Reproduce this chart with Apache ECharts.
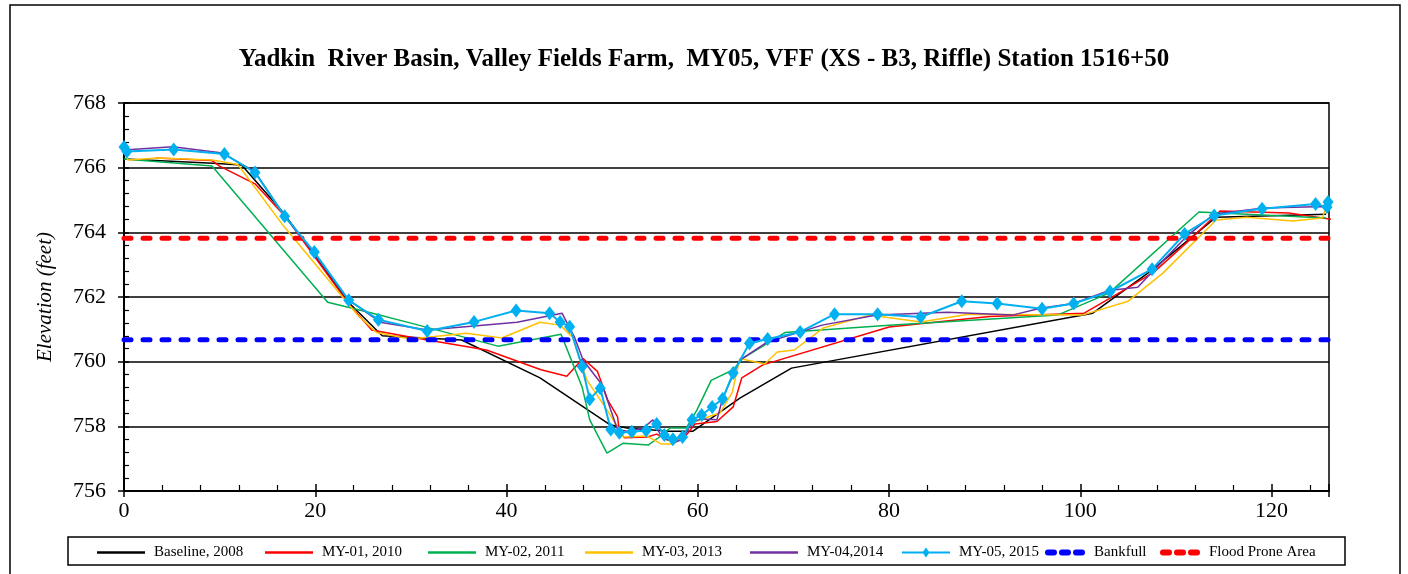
<!DOCTYPE html>
<html>
<head>
<meta charset="utf-8">
<script src="https://cdn.jsdelivr.net/npm/echarts@6/dist/echarts.min.js"></script>
<style>
  html, body { margin: 0; padding: 0; background: #fff; }
  #chart { width: 1408px; height: 574px; }
</style>
</head>
<body>
<div id="chart"></div>
<script>
// station (ft) / elevation (ft) per survey
var baseSta  = [0, 9.3, 12.3, 16.6, 23.6, 27, 35.3, 43.5, 50.8, 52.6, 57, 59.5, 64.4, 69.8, 101.3, 107.2, 114.2, 125.7];
var baseElev = [766.27, 766.14, 766.08, 764.63, 761.8, 760.8, 760.67, 759.5, 758.05, 757.95, 757.85, 757.85, 758.87, 759.8, 761.5, 762.77, 764.47, 764.56];

var my01Sta  = [3.3, 9.2, 10, 13.7, 17, 23.6, 25.9, 29.9, 37.9, 43.6, 46.3, 48, 49.5, 50.6, 51.6, 51.8, 52.3, 54.7, 55.7, 56.8, 58.4, 59.7, 62, 63.7, 64.6, 66.8, 80, 90.5, 100.4, 104.2, 107.7, 111.4, 114.6, 121.8, 127.4];
var my01Elev = [766.3, 766.22, 766.05, 765.5, 764.44, 761.75, 760.98, 760.76, 760.36, 759.75, 759.55, 760.1, 759.7, 758.8, 758.3, 757.85, 757.65, 757.67, 757.76, 757.58, 757.58, 758.07, 758.15, 758.6, 759.5, 759.9, 761.07, 761.4, 761.5, 762.15, 762.77, 763.76, 764.66, 764.6, 764.35];

var my02Sta  = [0, 9.2, 21.3, 26, 29.9, 39.1, 45.7, 47.9, 48.7, 50.5, 52.2, 54.8, 56, 57.1, 58.8, 59.9, 61.4, 63.7, 64.7, 69.1, 80, 97.6, 103, 112.4, 125.7];
var my02Elev = [766.27, 766.05, 761.84, 761.5, 761.2, 760.48, 760.85, 759.22, 758.2, 757.17, 757.48, 757.42, 757.67, 757.95, 757.95, 758.5, 759.42, 759.75, 760.1, 760.9, 761.13, 761.44, 762.12, 764.63, 764.44];

var my03Sta  = [0, 0.4, 3.6, 9.2, 11.9, 16.6, 24.4, 26.4, 29.9, 35.8, 39.5, 43.5, 45.6, 46.9, 48.4, 50.3, 51.5, 52.2, 54.7, 56.2, 57.4, 58.4, 59.4, 61.6, 62.3, 63.6, 64.4, 67, 68.3, 70.1, 73.1, 78, 83.3, 88.3, 100.2, 105, 108.6, 114.2, 117.4, 122.2, 125.3, 125.7];
var my03Elev = [766.5, 766.24, 766.3, 766.24, 766.1, 764.23, 761.45, 760.9, 760.7, 760.88, 760.73, 761.22, 761.13, 760.76, 759.43, 758.6, 758.04, 757.67, 757.7, 757.45, 757.45, 757.67, 758.1, 758.35, 758.4, 759.05, 760.1, 759.93, 760.3, 760.36, 761.04, 761.44, 761.23, 761.47, 761.44, 761.87, 762.73, 764.38, 764.47, 764.35, 764.44, 764.78];

var my04Sta  = [0, 5.1, 10.3, 13.7, 16.8, 20, 23.5, 26.8, 31.7, 36.6, 41.1, 45.8, 47.1, 48, 50, 51.6, 52.6, 54.3, 55.3, 56.2, 57.6, 58.4, 59.4, 60.4, 62, 62.6, 64.4, 67.2, 73, 78.7, 86.1, 92.9, 95.8, 99.3, 103, 106, 107.5, 111.2, 114, 119.2, 125.6, 126];
var my04Elev = [766.55, 766.65, 766.45, 765.87, 764.5, 763.3, 761.9, 761.22, 760.98, 761.1, 761.22, 761.5, 760.76, 760.05, 759.28, 757.9, 757.85, 757.95, 758.2, 757.67, 757.51, 757.6, 758.13, 758.23, 758.2, 758.87, 760.05, 760.6, 761.13, 761.44, 761.53, 761.44, 761.65, 761.8, 762.2, 762.3, 762.77, 763.9, 764.57, 764.75, 764.8, 764.75];

var my05Sta  = [0, 0.3, 5.2, 10.5, 13.7, 16.8, 19.9, 23.5, 26.6, 31.7, 36.6, 41, 44.5, 45.6, 46.6, 47.9, 48.7, 49.8, 50.9, 51.8, 53.1, 54.6, 55.7, 56.5, 57.4, 58.4, 59.4, 60.4, 61.5, 62.6, 63.7, 65.4, 67.3, 70.7, 74.3, 78.8, 83.3, 87.6, 91.3, 96, 99.3, 103.1, 107.5, 110.9, 114, 119, 124.6, 125.8, 125.9];
var my05Elev = [766.64, 766.5, 766.56, 766.42, 765.85, 764.5, 763.39, 761.9, 761.3, 760.95, 761.23, 761.58, 761.5, 761.23, 761.08, 759.85, 758.84, 759.18, 757.9, 757.8, 757.83, 757.87, 758.07, 757.73, 757.6, 757.67, 758.2, 758.35, 758.6, 758.85, 759.65, 760.57, 760.7, 760.92, 761.47, 761.47, 761.38, 761.87, 761.8, 761.64, 761.8, 762.17, 762.86, 763.95, 764.52, 764.73, 764.88, 764.78, 764.94];

var bankSta   = [0, 126];
var bankElev  = [760.68, 760.68];
var floodSta  = [0, 126];
var floodElev = [763.82, 763.82];

var names = ['Baseline, 2008', 'MY-01, 2010', 'MY-02, 2011', 'MY-03, 2013', 'MY-04,2014', 'MY-05, 2015', 'Bankfull', 'Flood Prone Area'];
var colors = ['#000000', '#ff0000', '#00b050', '#ffc000', '#7030a0', '#00b0f0', '#0000ff', '#ff0000'];

function pairs(xs, ys) {
  var out = [];
  for (var i = 0; i < xs.length; i++) out.push([xs[i], ys[i]]);
  return out;
}

var serif = '"Liberation Serif", "Times New Roman", serif';

// legend icons: plain line, line with diamond, three dashes
var iconLine = 'path://M0,5 L48,5 L48,7.5 L0,7.5 Z';
var iconDiamond = 'path://M0,5 L48,5 L48,7 L0,7 Z M24,1 L27.5,6 L24,11 L20.5,6 Z';
var iconDots = 'path://M3,3 L9,3 A3,3 0 0 1 9,9 L3,9 A3,3 0 0 1 3,3 Z M17,3 L23,3 A3,3 0 0 1 23,9 L17,9 A3,3 0 0 1 17,3 Z M31,3 L37,3 A3,3 0 0 1 37,9 L31,9 A3,3 0 0 1 31,3 Z';

myChart = echarts.init(document.getElementById('chart'));

function lineSeries(idx, data, extra) {
  var s = {
    name: names[idx],
    type: 'line',
    data: data,
    symbol: 'none',
    color: colors[idx],
    lineStyle: { color: colors[idx], width: 1.5 },
    animation: false,
    z: 3
  };
  for (var k in extra) s[k] = extra[k];
  return s;
}

// legend placed item by item, like the boxed legend in the original
var legendLeft = [97, 265, 428, 585, 750, 902, 1045, 1160];
var legends = [];
for (var i = 0; i < names.length; i++) {
  var icon = i < 5 ? iconLine : (i == 5 ? iconDiamond : iconDots);
  legends.push({
    data: [{ name: names[i], icon: icon }],
    left: legendLeft[i],
    top: 545,
    padding: 0,
    itemWidth: i < 6 ? 48 : 40,
    itemHeight: 12,
    itemStyle: { borderWidth: 0 },
    lineStyle: { width: 0 },
    textStyle: { fontFamily: serif, fontSize: 15, color: '#000', padding: [0, 0, 0, 4] }
  });
}

var xMain = {
  type: 'value', min: 0, max: 126, interval: 20,
  axisLine: { lineStyle: { color: '#000', width: 2 } },
  axisTick: { inside: true, length: 7, lineStyle: { color: '#000', width: 1.5 } },
  minorTick: { show: true, splitNumber: 5, length: 6, lineStyle: { color: '#000', width: 1.2 } },
  axisLabel: { showMaxLabel: false, margin: 9, fontFamily: serif, fontSize: 22, color: '#000' },
  splitLine: { show: false }
};
// second copy only for the outward half of the major ticks
var xTicksOut = {
  type: 'value', min: 0, max: 126, interval: 20, position: 'bottom',
  axisLine: { show: false },
  axisTick: { show: true, inside: false, length: 6, lineStyle: { color: '#000', width: 1.5 } },
  axisLabel: { show: false },
  splitLine: { show: false }
};
var yMain = {
  type: 'value', min: 756, max: 768, interval: 2,
  name: 'Elevation (feet)', nameLocation: 'middle', nameGap: 68,
  nameTextStyle: { fontFamily: serif, fontSize: 21, fontStyle: 'italic', color: '#000', padding: [0, 0, 0, 0] },
  axisLine: { show: true, lineStyle: { color: '#000', width: 2 } },
  axisTick: { show: true, inside: true, length: 5, lineStyle: { color: '#000', width: 1.5 } },
  minorTick: { show: true, splitNumber: 5, length: 5, lineStyle: { color: '#000', width: 1.2 } },
  axisLabel: { margin: 18, fontFamily: serif, fontSize: 22, color: '#000' },
  splitLine: { show: true, lineStyle: { color: '#000', width: 1.5 } }
};
var yTicksOut = {
  type: 'value', min: 756, max: 768, interval: 2, position: 'left',
  axisLine: { show: false },
  axisTick: { show: true, inside: false, length: 6, lineStyle: { color: '#000', width: 1.5 } },
  axisLabel: { show: false },
  splitLine: { show: false }
};

option = {
  backgroundColor: '#fff',
  animation: false,
  title: {
    text: 'Yadkin  River Basin, Valley Fields Farm,  MY05, VFF (XS - B3, Riffle) Station 1516+50',
    left: 'center',
    top: 47,
    padding: [0, 0, 0, 14],
    textStyle: { fontFamily: serif, fontSize: 25, fontWeight: 'bold', color: '#000' }
  },
  legend: legends,
  grid: {
    left: 124, right: 79, top: 103, bottom: 83,
    show: true, borderColor: '#000', borderWidth: 1.5, backgroundColor: 'transparent'
  },
  xAxis: [xMain, xTicksOut],
  yAxis: [yMain, yTicksOut],
  graphic: [
    { type: 'rect', shape: { x: 10, y: 5, width: 1390, height: 580 },
      style: { fill: 'none', stroke: '#000', lineWidth: 1.5 }, silent: true },
    { type: 'rect', shape: { x: 68, y: 537, width: 1277, height: 28 },
      style: { fill: 'none', stroke: '#000', lineWidth: 1.5 }, silent: true }
  ],
  series: [
    lineSeries(0, pairs(baseSta, baseElev)),
    lineSeries(1, pairs(my01Sta, my01Elev), { clip: false }),
    lineSeries(2, pairs(my02Sta, my02Elev)),
    lineSeries(3, pairs(my03Sta, my03Elev)),
    lineSeries(4, pairs(my04Sta, my04Elev)),
    lineSeries(5, pairs(my05Sta, my05Elev), {
      symbol: 'diamond', symbolSize: [11, 14], showAllSymbol: true,
      itemStyle: { color: colors[5] },
      lineStyle: { color: colors[5], width: 2 },
      z: 5
    }),
    lineSeries(6, pairs(bankSta, bankElev), {
      lineStyle: { color: colors[6], width: 5, type: [7, 12], cap: 'round' }, z: 4
    }),
    lineSeries(7, pairs(floodSta, floodElev), {
      lineStyle: { color: colors[7], width: 5, type: [7, 12], cap: 'round' }, z: 4
    })
  ]
};

myChart.setOption(option);
</script>
</body>
</html>
